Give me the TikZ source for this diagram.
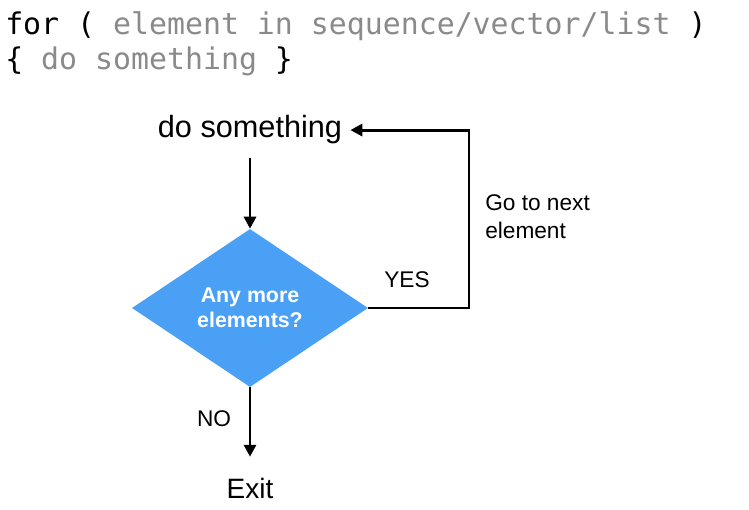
\documentclass[tikz,border=0pt]{standalone}
\usepackage{fontspec}
\setmainfont{Liberation Sans}
\newfontfamily\codefont{DejaVu Sans Mono}
\usepackage{tikz}
\usetikzlibrary{shapes,arrows.meta,positioning,calc}
\definecolor{codegray}{RGB}{138,138,138}
\definecolor{diablue}{RGB}{74,160,245}

\begin{document}
\begin{tikzpicture}[x=0.75pt,y=0.75pt,
  arr/.style={line width=2.2pt,-{Triangle[length=9pt,width=9pt]}},
  lbl/.style={font=\fontsize{17}{21}\selectfont,inner sep=0pt,anchor=base},
  code/.style={font=\codefont\fontsize{22.4}{26}\selectfont,inner sep=0pt,anchor=base west}]
  \useasboundingbox (0,0) rectangle (749,510);
  % loop syntax
  \node[code] (cfor) at (5,475) {for ( \textcolor{codegray}{element in sequence/vector/list} )};
  \node[code] (cbody) at (5,440) {\{ \textcolor{codegray}{do something} \}};
  % flowchart
  \node[lbl,font=\fontsize{23}{28}\selectfont,inner xsep=6pt,inner ysep=10pt] (act) at (250,372) {do something};
  \node[diamond,fill=diablue,minimum width=177pt,minimum height=118.5pt,inner sep=0pt,
        text=white,font=\bfseries\fontsize{16}{18.75}\selectfont,align=center] (dia) at (250,202) {Any more\\elements?};
  \node[lbl,font=\fontsize{21}{25}\selectfont,inner ysep=15.5pt] (exit) at (250,12) {Exit};
  \coordinate (turn) at (469,0);
  % labels
  \node[lbl] (yes) at (407,222) {YES};
  \node[lbl] (no) at (214,83) {NO};
  \node[lbl,anchor=north west,align=left] (next) at (485,316) {Go to next\\element};
  % arrows
  \draw[arr] (act.south) -- (dia.north);
  \draw[arr] (dia.east) -- (dia.east -| turn) |- (act.east);
  \draw[arr] (dia.south) -- (exit.north);
\end{tikzpicture}
\end{document}
